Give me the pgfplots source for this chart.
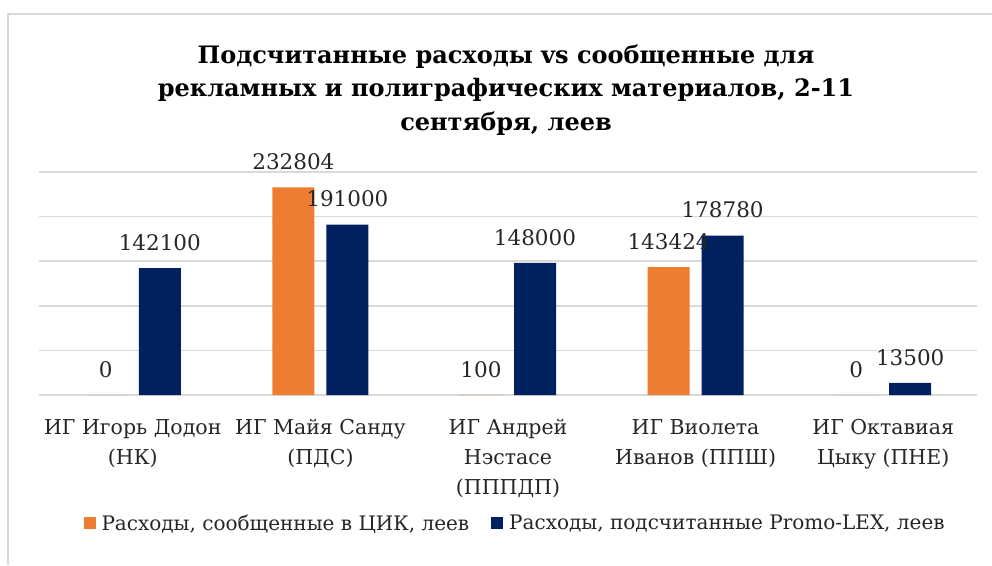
\documentclass[border=0pt]{standalone}
\usepackage{pgfplots}
\pgfplotsset{compat=1.18}
\usepackage{fontspec}
\setmainfont{DejaVu Serif}
\definecolor{cOrange}{HTML}{ED7D31}
\definecolor{cNavy}{HTML}{002060}
\definecolor{cGrid}{HTML}{D9D9D9}
\begin{document}
\begin{tikzpicture}[x=1pt,y=1pt]
\useasboundingbox (0,0) rectangle (992,565);
\draw[cGrid, line width=2pt] (8,0) -- (8,551) -- (992,551);
\node[align=center, font=\fontsize{24}{33.5}\selectfont\bfseries] at (506,475)
  {Подсчитанные расходы vs сообщенные для\\рекламных и полиграфических материалов, 2-11\\сентября, леев};
\begin{axis}[
  at={(39pt,170pt)}, anchor=south west,
  width=938pt, height=223pt, scale only axis,
  xmin=-0.5, xmax=4.5, ymin=0, ymax=250000,
  axis line style={draw=none},
  ybar=12pt, bar width=42pt,
  ytick={0,50000,100000,150000,200000,250000},
  yticklabels={}, scaled y ticks=false,
  ymajorgrids, grid style={cGrid, line width=1.5pt},
  xtick={0,1,2,3,4}, 
  xticklabels={{ИГ Игорь Додон\\(НК)},{ИГ Майя Санду\\(ПДС)},{ИГ Андрей\\Нэстасе\\(ПППДП)},{ИГ Виолета\\Иванов (ППШ)},{ИГ Октавиая\\Цыку (ПНЕ)}},
  xticklabel style={align=center, font=\fontsize{20.5}{30}\selectfont, text=black!85, yshift=-21pt},
  major tick length=0pt,
  nodes near coords,
  nodes near coords style={font=\fontsize{21.5}{26}\selectfont, text=black!85, yshift=14pt},
  point meta=explicit symbolic,
  legend columns=2,
  legend style={draw=none, at={(0.5075,-0.574)}, anchor=center, font=\fontsize{20}{24}\selectfont, text=black!85,
    /tikz/every odd column/.append style={column sep=4pt},
    /tikz/every even column/.append style={column sep=20pt}},
  legend image code/.code={\fill[#1] (0pt,-6pt) rectangle (12pt,6pt);},
  clip=false,
]
\addplot[fill=cOrange, draw=none] coordinates {(0,0)[0] (1,232804)[232804] (2,100)[100] (3,143424)[143424] (4,0)[0]};
\addplot[fill=cNavy, draw=none] coordinates {(0,142100)[142100] (1,191000)[191000] (2,148000)[148000] (3,178780)[178780] (4,13500)[13500]};
\legend{{Расходы, сообщенные в ЦИК, леев},{Расходы, подсчитанные Promo-LEX, леев}}
\end{axis}
\end{tikzpicture}
\end{document}
